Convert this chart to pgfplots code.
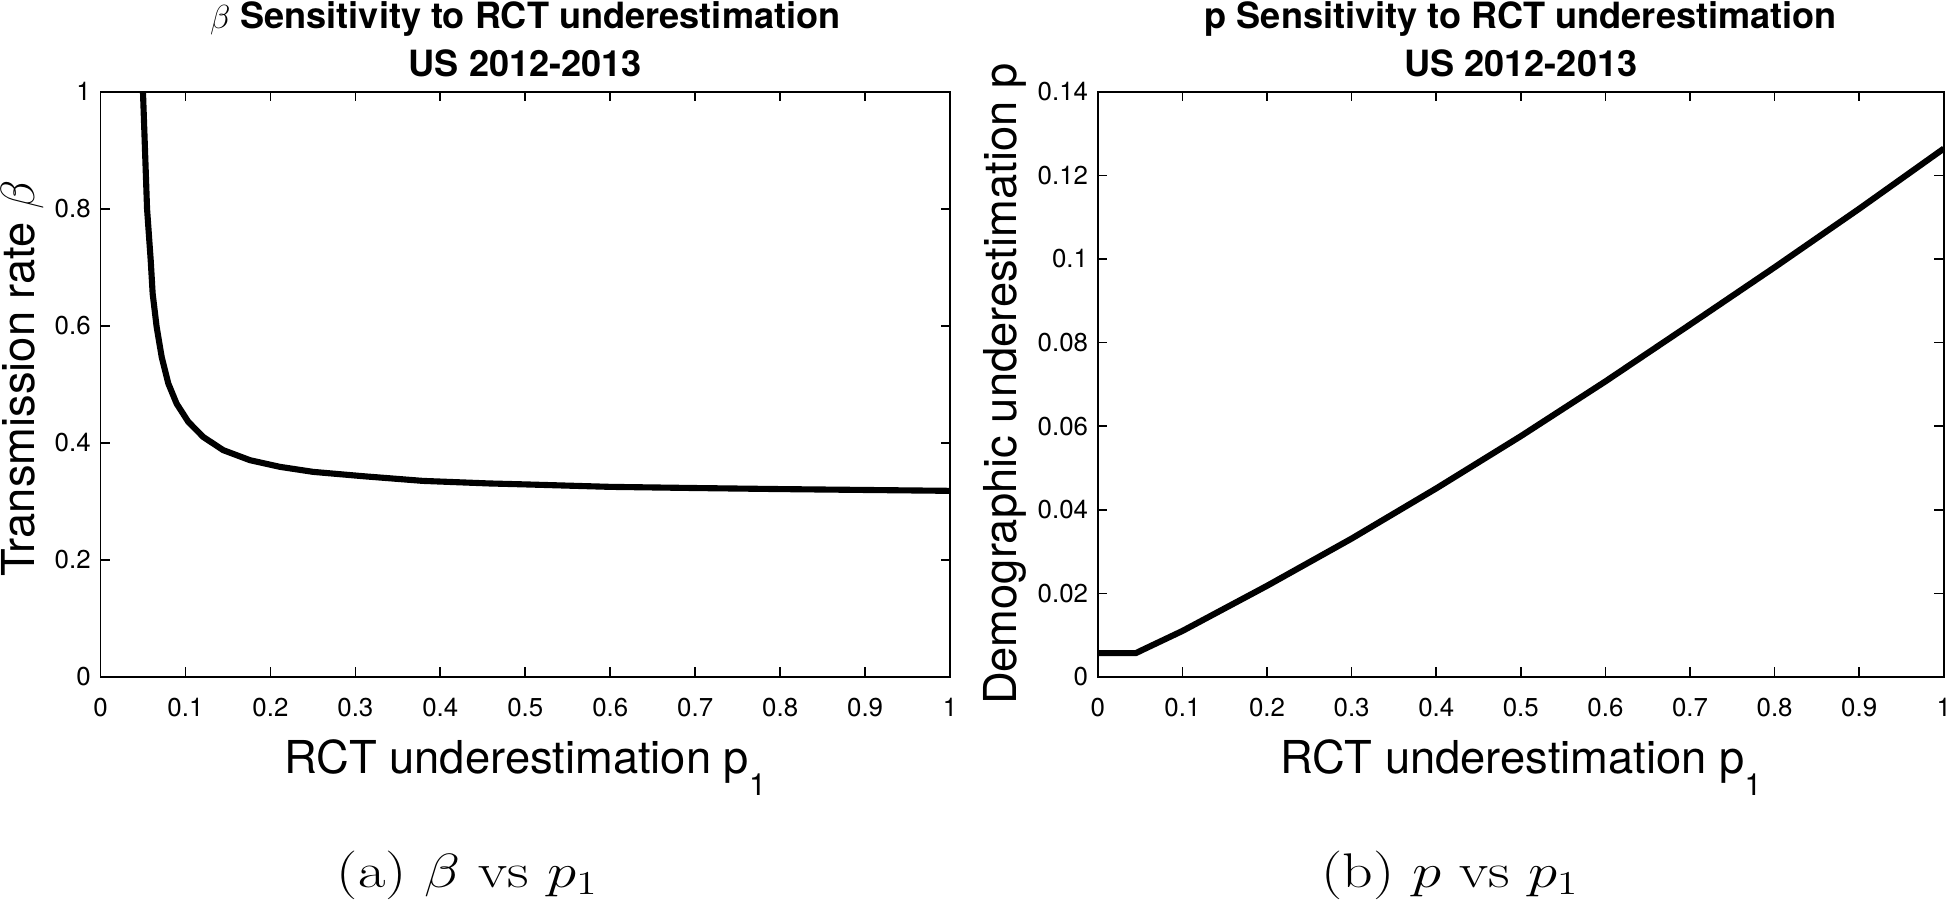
\documentclass[border=0pt]{standalone}
\usepackage{graphicx}
\usepackage{fontspec}
\usepackage{pgfplots}
\pgfplotsset{compat=1.18}
\newfontfamily\hv{TeX Gyre Heros}

\pgfplotstableread{
x y
0.0500 1.000
0.0548 0.800
0.0591 0.712
0.0614 0.655
0.0661 0.598
0.0720 0.547
0.0798 0.5015
0.0896 0.467
0.1033 0.436
0.1210 0.410
0.1445 0.3875
0.1759 0.3704
0.2112 0.3590
0.2504 0.3504
0.3092 0.3430
0.3795 0.3350
0.4580 0.3306
0.5000 0.3290
0.6000 0.3248
0.7000 0.3228
0.8000 0.3210
0.9000 0.3195
1.0000 0.3180
}\betadata

\pgfplotstableread{
x y
0.000 0.0057
0.045 0.0057
0.050 0.0062
0.100 0.0110
0.200 0.0218
0.300 0.0331
0.400 0.0451
0.500 0.0576
0.600 0.0707
0.700 0.0843
0.800 0.0980
0.900 0.1120
1.000 0.1264
}\pdata

\pgfplotsset{
  mystyle/.style={
    scale only axis,
    anchor=south west,
    height=210.5pt,
    xmin=0, xmax=1,
    xtick={0,0.1,0.2,0.3,0.4,0.5,0.6,0.7,0.8,0.9,1},
    axis line style={line width=0.7pt},
    major tick length=3.4pt,
    every tick/.style={black, line width=0.6pt},
    tick align=inside,
    ticklabel style={font=\hv\fontsize{9.3}{11}\selectfont},
    /pgf/number format/assume math mode=true,
    xticklabel style={yshift=-4.2pt},
    scaled ticks=false,
    yticklabel style={/pgf/number format/fixed, /pgf/number format/precision=2},
    xlabel style={at={(axis description cs:0.5,-0.1653)}, anchor=base},
    label style={font=\hv\fontsize{16.3}{18}\selectfont},
    xlabel={RCT underestimation p\raisebox{-7.9pt}{\fontsize{11}{11}\selectfont 1}},
  }
}

\begin{document}
\begin{tikzpicture}
\useasboundingbox (0,0) rectangle (700pt,324.5pt);

\begin{axis}[mystyle,
  at={(36.15pt,81pt)},
  width=305.6pt,
  ymin=0, ymax=1,
  ytick={0,0.2,0.4,0.6,0.8,1},
  ylabel={Transmission rate $\beta$},
  ylabel style={at={(axis description cs:-0.0771,0.51)}, anchor=base},
  extra description/.code={
    \node[anchor=base, yshift=22.8pt, font=\hv\bfseries\fontsize{13}{15}\selectfont] at (0.5,1) {$\beta$ Sensitivity to RCT underestimation};
    \node[anchor=base, yshift=5.6pt, font=\hv\bfseries\fontsize{13}{15}\selectfont] at (0.5,1) {US 2012-2013};
  },
]
\addplot[black, line width=2.2pt, line join=round, no markers] table[x=x,y=y] {\betadata};
\end{axis}

\begin{axis}[mystyle,
  at={(394.9pt,81pt)},
  width=304.3pt,
  ymin=0, ymax=0.14,
  ytick={0,0.02,0.04,0.06,0.08,0.1,0.12,0.14},
  ylabel={Demographic underestimation p},
  ylabel style={at={(axis description cs:-0.0960,0.5)}, anchor=base},
  extra description/.code={
    \node[anchor=base, yshift=22.8pt, font=\hv\bfseries\fontsize{13}{15}\selectfont] at (0.5,1) {p Sensitivity to RCT underestimation};
    \node[anchor=base, yshift=5.6pt, font=\hv\bfseries\fontsize{13}{15}\selectfont] at (0.5,1) {US 2012-2013};
  },
]
\addplot[black, line width=2.2pt, line join=round, no markers] table[x=x,y=y] {\pdata};
\end{axis}

\node[anchor=base] at (168.2pt,5.4pt) {\scalebox{1.23}[1]{\fontsize{17.5}{20}\selectfont (a) $\beta$ vs $p_1$}};
\node[anchor=base] at (521.6pt,5.4pt) {\scalebox{1.23}[1]{\fontsize{17.5}{20}\selectfont (b) $p$ vs $p_1$}};
\end{tikzpicture}
\end{document}
